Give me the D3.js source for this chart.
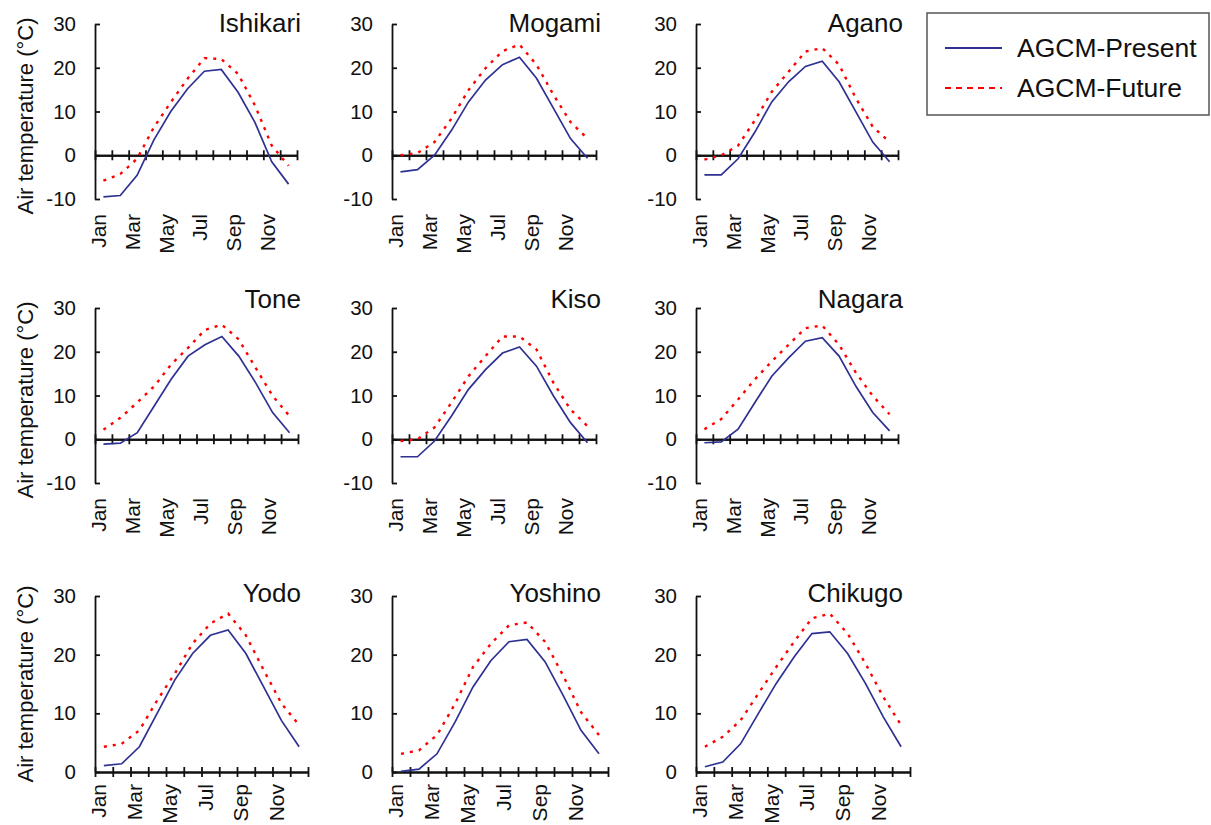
<!DOCTYPE html>
<html>
<head>
<meta charset="utf-8">
<script src="https://cdn.jsdelivr.net/npm/d3@7"></script>
<style>
  html, body { margin: 0; padding: 0; background: #fff; }
  svg { display: block; font-family: "Liberation Sans", Arial, sans-serif; }
</style>
</head>
<body>
<script>
// ---------------- DATA ----------------
const monthNames = ["Jan","Feb","Mar","Apr","May","Jun","Jul","Aug","Sep","Oct","Nov","Dec"];
const monthLabels = ["Jan","Mar","May","Jul","Sep","Nov"];
const rivers = ["Ishikari","Mogami","Agano","Tone","Kiso","Nagara","Yodo","Yoshino","Chikugo"];
const seriesNames = ["AGCM-Present","AGCM-Future"];
const yTicksTop = [-10, 0, 10, 20, 30];
const yTicksBottom = [0, 10, 20, 30];

const ishikariPresent = [-9.5, -9.2, -4.6, 3.5, 10.0, 15.2, 19.2, 19.6, 14.4, 7.5, -1.5, -6.6];
const ishikariFuture  = [-5.8, -4.3, -0.8, 6.4, 12.1, 17.5, 22.2, 22.0, 18.6, 11.4, 2.2, -2.4];
const mogamiPresent   = [-3.8, -3.3, 0.0, 5.7, 12.2, 17.2, 20.7, 22.4, 17.6, 10.7, 3.8, -0.7];
const mogamiFuture    = [0.0, 0.5, 3.0, 8.4, 14.9, 19.9, 23.8, 25.3, 20.7, 13.8, 7.6, 3.8];
const aganoPresent    = [-4.5, -4.5, -0.8, 5.3, 12.2, 16.8, 20.3, 21.5, 16.8, 9.9, 3.0, -1.5];
const aganoFuture     = [-1.0, 0.0, 2.2, 8.0, 14.5, 19.1, 23.7, 24.5, 20.7, 13.0, 6.5, 3.0];
const tonePresent     = [-1.1, -0.9, 1.5, 7.6, 13.7, 19.0, 21.6, 23.5, 19.0, 12.9, 6.1, 1.5];
const toneFuture      = [2.2, 4.9, 8.4, 12.1, 17.1, 20.9, 25.0, 26.2, 22.8, 16.3, 9.9, 5.3];
const kisoPresent     = [-4.0, -4.0, -0.4, 5.3, 11.4, 15.9, 19.7, 21.1, 16.7, 9.9, 3.8, -0.8];
const kisoFuture      = [-0.4, 0.0, 2.7, 8.4, 14.4, 19.0, 23.5, 23.5, 20.5, 12.9, 6.8, 3.0];
const nagaraPresent   = [-0.8, -0.6, 2.3, 8.4, 14.4, 18.6, 22.4, 23.2, 19.0, 12.1, 6.1, 1.9];
const nagaraFuture    = [2.3, 4.6, 9.1, 13.7, 17.8, 21.6, 25.4, 26.0, 21.6, 15.2, 9.9, 5.7];
const yodoPresent     = [1.1, 1.4, 4.3, 10.0, 15.7, 20.2, 23.3, 24.2, 20.2, 14.5, 8.8, 4.3];
const yodoFuture      = [4.3, 4.8, 7.1, 12.2, 16.8, 21.9, 25.3, 27.0, 23.3, 17.4, 11.7, 8.0];
const yoshinoPresent  = [0.1, 0.5, 3.1, 8.5, 14.5, 19.0, 22.2, 22.6, 18.8, 13.1, 7.1, 3.1];
const yoshinoFuture   = [3.1, 3.7, 6.3, 11.6, 17.9, 21.9, 25.0, 25.5, 22.2, 16.5, 10.2, 6.3];
const chikugoPresent  = [0.9, 1.7, 4.8, 10.0, 15.1, 19.6, 23.6, 23.9, 20.2, 15.1, 9.4, 4.3];
const chikugoFuture   = [4.3, 6.0, 8.8, 13.4, 17.9, 22.2, 26.2, 27.0, 23.6, 18.5, 12.8, 8.0];

const presentSeries = [ishikariPresent, mogamiPresent, aganoPresent, tonePresent, kisoPresent, nagaraPresent, yodoPresent, yoshinoPresent, chikugoPresent];
const futureSeries  = [ishikariFuture, mogamiFuture, aganoFuture, toneFuture, kisoFuture, nagaraFuture, yodoFuture, yoshinoFuture, chikugoFuture];

// ---------------- LAYOUT ----------------
const W = 1211, H = 825;
const FONT = "'Liberation Sans', Arial, sans-serif";
const colX0 = [95, 392, 696];
const rowLayout = [
  { domain: [-10, 30], top: 24, bottom: 199, ticks: yTicksTop, x1: [297, 596, 898], titleY: 32, labelMid: 116, labGap: 15 },
  { domain: [-10, 30], top: 308, bottom: 483, ticks: yTicksTop, x1: [298, 596, 898], titleY: 308, labelMid: 400, labGap: 15 },
  { domain: [0, 30], top: 596, bottom: 772, ticks: yTicksBottom, x1: [308, 608, 910], titleY: 602, labelMid: 684, labGap: 12 }
];
const titleRight = [301, 601, 903];
const presentColor = "#2e3192";
const futureColor = "#ff0000";

const svg = d3.select("body").append("svg").attr("width", W).attr("height", H);

rivers.forEach((name, i) => {
  const r = Math.floor(i / 3), c = i % 3;
  const L = rowLayout[r];
  const x0 = colX0[c], x1 = L.x1[c];
  const x = d3.scaleLinear().domain([0, 12]).range([x0, x1]);
  const y = d3.scaleLinear().domain(L.domain).range([L.bottom, L.top]);
  const g = svg.append("g");

  // y axis
  const yAxis = g.append("g").attr("transform", `translate(${x0},0)`)
    .call(d3.axisLeft(y).tickValues(L.ticks).tickSize(-5).tickSizeOuter(0).tickPadding(19).tickFormat(d => String(d)));
  yAxis.selectAll("text").attr("font-size", 20.5).attr("font-family", FONT).attr("fill", "#111");
  yAxis.selectAll("line,path").attr("stroke", "#111").attr("stroke-width", 1.8);

  // x axis at y = 0 with crossing ticks
  const y0 = y(0);
  const xb = g.append("g").attr("transform", `translate(0,${y0})`)
    .call(d3.axisBottom(x).tickValues(d3.range(0, 13)).tickSize(5).tickSizeOuter(0).tickFormat(""));
  const xt = g.append("g").attr("transform", `translate(0,${y0})`)
    .call(d3.axisTop(x).tickValues(d3.range(0, 13)).tickSize(5).tickSizeOuter(0).tickFormat(""));
  [xb, xt].forEach(a => a.selectAll("line,path").attr("stroke", "#111").attr("stroke-width", 1.8));

  // month labels (rotated)
  const labY = L.bottom + L.labGap;
  monthLabels.forEach(m => {
    const mi = monthNames.indexOf(m);
    g.append("text")
      .attr("transform", `translate(${x(mi) + 4},${labY}) rotate(-90)`)
      .attr("text-anchor", "end").attr("dy", "0.35em")
      .attr("font-size", 21).attr("font-family", FONT).attr("fill", "#111")
      .text(m);
  });

  // lines
  const line = d3.line().x((d, k) => x(k + 0.5)).y(d => y(d));
  g.append("path").datum(presentSeries[i]).attr("d", line)
    .attr("fill", "none").attr("stroke", presentColor).attr("stroke-width", 1.7);
  g.append("path").datum(futureSeries[i]).attr("d", line)
    .attr("fill", "none").attr("stroke", futureColor).attr("stroke-width", 2.4)
    .attr("stroke-dasharray", "3,6");

  // title
  g.append("text").attr("x", titleRight[c]).attr("y", L.titleY)
    .attr("text-anchor", "end").attr("font-size", 26).attr("font-family", FONT).attr("fill", "#111")
    .text(name);

  // y axis title on first column
  if (c === 0) {
    g.append("text")
      .attr("transform", `translate(33,${L.labelMid}) rotate(-90)`)
      .attr("text-anchor", "middle").attr("font-size", 22).attr("font-family", FONT).attr("fill", "#111")
      .text("Air temperature (°C)");
  }
});

// ---------------- LEGEND ----------------
const lg = svg.append("g");
lg.append("rect").attr("x", 927).attr("y", 13).attr("width", 282).attr("height", 102)
  .attr("fill", "#fff").attr("stroke", "#555").attr("stroke-width", 1.5);
const legendY = [48, 88];
const legendColors = [presentColor, futureColor];
const legendDash = [null, "6,5"];
seriesNames.forEach((s, k) => {
  lg.append("line").attr("x1", 945).attr("x2", 1002).attr("y1", legendY[k]).attr("y2", legendY[k])
    .attr("stroke", legendColors[k]).attr("stroke-width", 2)
    .attr("stroke-dasharray", legendDash[k]);
  lg.append("text").attr("x", 1017).attr("y", legendY[k]).attr("dy", "0.35em")
    .attr("font-size", 26.5).attr("font-family", FONT).attr("fill", "#111").text(s);
});
</script>
</body>
</html>
